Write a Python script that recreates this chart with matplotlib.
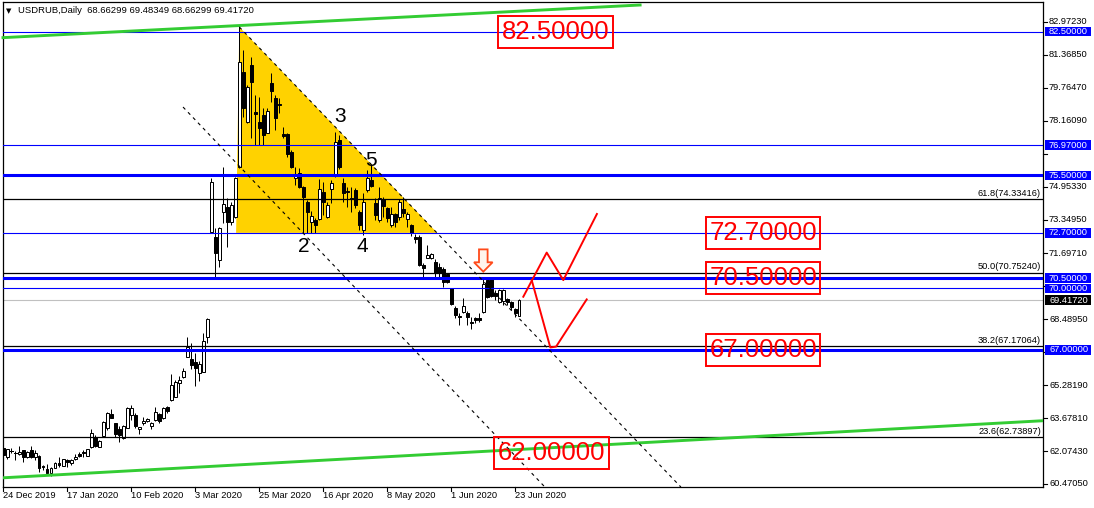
import matplotlib
matplotlib.use('Agg')
import matplotlib.pyplot as plt
from matplotlib.patches import Rectangle, Polygon
from matplotlib.transforms import blended_transform_factory
import numpy as np

plt.rcParams['font.family'] = ['Liberation Sans', 'DejaVu Sans']

# ---------------- data ----------------
opens = [62.21, 61.80, 62.10, 61.99, 61.91, 62.13, 61.77, 62.13, 61.77, 61.83,
         61.36, 61.20, 61.02, 61.26, 61.47, 61.36, 61.62, 61.48, 61.67, 61.91,
         62.01, 61.85, 62.29, 62.77, 62.29, 62.82, 63.18, 63.86, 63.42, 63.13,
         62.69, 63.21, 63.83, 63.83, 63.13, 63.42, 63.52, 63.29, 63.59, 63.86,
         63.67, 64.24, 64.56, 64.72, 65.40, 65.66, 66.67, 66.54, 66.41, 65.86,
         65.94, 67.61, 72.73, 72.52, 71.38, 73.70, 73.98, 73.25, 73.49, 75.93,
         80.55, 78.12, 80.88, 78.58, 78.12, 78.44, 77.58, 79.99, 79.29, 79.00,
         77.52, 77.52, 76.66, 75.36, 75.60, 74.95, 74.22, 73.25, 73.33, 73.36,
         74.71, 73.49, 74.82, 75.52, 77.23, 75.15, 74.74, 74.42, 74.79, 73.74,
         72.84, 74.79, 75.28, 74.14, 73.33, 74.34, 73.90, 73.09, 73.61, 73.49,
         73.85, 73.38, 73.09, 72.49, 72.52, 71.14, 71.50, 71.46, 71.30, 71.02,
         70.92, 70.68, 70.00, 69.03, 68.65, 68.86, 68.81, 68.38, 68.54, 68.54,
         68.86, 70.40, 70.44, 69.76, 69.35, 69.40, 69.46, 69.35, 68.98, 68.66299]
highs = [62.29, 62.16, 62.21, 62.07, 62.32, 62.13, 62.06, 62.32, 62.13, 61.88,
         61.39, 61.44, 61.31, 61.55, 61.80, 61.70, 61.69, 61.67, 61.93, 62.03,
         62.13, 62.18, 63.13, 62.86, 62.60, 63.53, 63.99, 64.11, 63.46, 63.29,
         63.32, 64.20, 64.32, 63.91, 63.26, 63.75, 63.67, 63.50, 64.20, 63.91,
         64.20, 64.27, 65.83, 65.53, 65.73, 66.10, 67.61, 67.32, 66.83, 66.48,
         67.81, 68.54, 75.36, 72.92, 73.00, 75.93, 74.38, 74.22, 75.44, 82.78,
         81.61, 79.90, 81.28, 79.42, 79.33, 78.77, 78.77, 80.47, 79.42, 79.26,
         77.88, 77.55, 76.74, 75.93, 75.85, 74.98, 74.30, 73.77, 73.41, 75.31,
         75.20, 74.22, 75.28, 77.63, 77.47, 75.36, 74.95, 74.95, 74.87, 73.82,
         74.63, 75.76, 76.01, 74.38, 74.95, 74.47, 73.98, 73.98, 73.66, 74.34,
         74.43, 73.74, 73.14, 72.63, 72.60, 71.22, 72.11, 71.74, 71.41, 71.22,
         71.06, 70.73, 70.00, 69.14, 68.78, 69.51, 68.89, 68.59, 68.59, 68.78,
         70.44, 70.44, 70.49, 69.92, 69.95, 69.95, 69.51, 69.40, 69.03, 69.48349]
lows = [61.80, 61.67, 61.96, 61.64, 61.88, 61.56, 61.75, 61.72, 61.64, 61.07,
        61.15, 60.91, 60.88, 61.23, 61.31, 61.33, 61.31, 61.39, 61.64, 61.77,
        61.80, 61.82, 62.21, 62.29, 62.27, 62.78, 63.10, 63.67, 62.77, 62.53,
        62.66, 63.18, 63.59, 63.18, 62.89, 63.34, 63.49, 63.16, 63.55, 63.42,
        63.64, 63.91, 64.53, 64.69, 64.92, 65.61, 66.64, 66.07, 65.26, 65.50,
        65.94, 67.32, 72.68, 70.57, 71.06, 73.17, 72.03, 73.09, 73.41, 75.85,
        78.36, 78.04, 77.31, 76.98, 76.98, 76.98, 77.55, 79.09, 77.71, 78.52,
        77.31, 76.41, 75.85, 75.03, 74.87, 72.68, 72.68, 72.68, 72.68, 73.33,
        73.57, 73.41, 74.14, 75.44, 75.80, 74.22, 73.98, 73.74, 73.90, 72.84,
        72.60, 74.71, 74.95, 73.33, 73.25, 73.49, 73.25, 73.01, 73.01, 73.33,
        73.49, 73.01, 72.55, 72.19, 71.11, 70.57, 71.46, 71.41, 70.57, 70.57,
        70.08, 70.24, 69.19, 68.54, 68.21, 68.81, 68.21, 68.00, 68.33, 68.38,
        68.81, 69.51, 69.59, 69.43, 69.30, 69.19, 69.19, 68.94, 68.59, 68.66299]
closes = [61.88, 62.16, 62.08, 61.98, 62.04, 61.77, 62.04, 61.77, 61.99, 61.23,
          61.28, 60.99, 61.26, 61.51, 61.39, 61.67, 61.56, 61.64, 61.80, 61.83,
          61.96, 62.16, 62.94, 62.34, 62.56, 63.50, 63.91, 63.70, 62.90, 62.87,
          63.29, 64.15, 64.15, 63.29, 63.23, 63.54, 63.62, 63.42, 63.96, 63.55,
          64.15, 64.04, 65.29, 65.44, 65.53, 65.97, 67.16, 66.26, 66.10, 66.31,
          67.43, 68.50, 75.20, 71.71, 72.92, 74.09, 73.22, 74.06, 75.36, 81.04,
          78.77, 79.82, 80.07, 78.50, 77.79, 77.47, 78.66, 79.63, 78.31, 78.95,
          77.42, 76.54, 75.93, 75.52, 74.95, 74.47, 73.74, 73.52, 73.09, 74.82,
          74.22, 74.06, 75.15, 77.14, 75.93, 74.66, 74.69, 74.34, 74.06, 73.09,
          74.22, 75.36, 75.00, 73.57, 74.38, 74.01, 73.41, 73.61, 73.25, 74.22,
          73.66, 73.61, 72.71, 72.41, 71.14, 70.98, 71.63, 71.67, 70.73, 70.73,
          70.32, 70.32, 69.24, 68.70, 68.59, 69.14, 68.59, 68.29, 68.46, 68.46,
          70.19, 69.59, 69.63, 69.63, 69.92, 69.92, 69.35, 69.07, 68.78, 69.41720]

date_tick_bars = [0, 16, 32, 48, 64, 80, 96, 112, 128]
date_labels = ["24 Dec 2019", "17 Jan 2020", "10 Feb 2020", "3 Mar 2020", "25 Mar 2020",
               "16 Apr 2020", "8 May 2020", "1 Jun 2020", "23 Jun 2020"]

price_ticks = [82.97230, 81.36850, 79.76470, 78.16090, 76.55710, 74.95330, 73.34950,
               71.69710, 70.09330, 68.48950, 66.88570, 65.28190, 63.67810, 62.07430, 60.47050]

thin_blue_levels = [82.5, 76.97, 72.7, 70.0]
thick_blue_levels = [75.5, 70.5, 67.0]
blue_axis_labels = [82.5, 76.97, 75.5, 72.7, 70.5, 70.0, 67.0]
bid_price = 69.41720

fib_pct = [61.8, 50.0, 38.2, 23.6]
fib_levels = [74.33416, 70.75240, 67.17064, 62.73897]

upper_trend_b = [-0.075, 159.2]
upper_trend_p = [82.21, 83.80]
lower_trend_b = [-0.075, 259.9]
lower_trend_p = [60.77, 63.55]

channel_a_b = [44.93, 135.4]
channel_a_p = [78.83, 60.32]
channel_b_b = [59.0, 169.4]
channel_b_p = [82.73, 60.32]

triangle_b = [58.2, 59.0, 108.5]
triangle_p = [72.70, 82.73, 72.70]

wave_labels = ["2", "3", "4", "5"]
wave_b = [75.0, 84.2, 89.85, 91.85]
wave_p = [72.03, 78.35, 72.06, 76.21]

red_label_values = [82.5, 72.7, 70.5, 67.0, 62.0]
red_label_b = [138.0, 190.0, 190.0, 190.0, 137.0]

path1_b = [130.0, 135.85, 140.0, 148.4]
path1_p = [69.59, 71.74, 70.40, 73.62]
path2_b = [132.1, 136.75, 138.2, 145.85]
path2_p = [70.40, 67.12, 67.16, 69.46]

arrow_tip_b, arrow_tip_p = 120.0, 70.81

# ---------------- figure ----------------
W, H = 1094, 508
fig = plt.figure(figsize=(W / 100, H / 100), dpi=100)
fig.patch.set_facecolor('white')
L, R, T, B = 3, 1043, 2, 487
ax = fig.add_axes([L / W, 1 - B / H, (R - L) / W, (B - T) / H])
ax.set_xlim(-0.075, 259.925)
ax.set_ylim(60.322, 83.946)
ax.set_xticks([])
ax.set_yticks([])
for s in ax.spines.values():
    s.set_color('black')
    s.set_linewidth(0.9)

ppu = (B - T) / (83.946 - 60.322)  # pixels per price unit
ppb = 4.0                            # pixels per bar

# triangle
ax.add_patch(Polygon(list(zip(triangle_b, triangle_p)), closed=True,
                     facecolor='#FFD200', edgecolor='none', zorder=1))

# candles
lw_px = 0.72
for i, (o, h, l, c) in enumerate(zip(opens, highs, lows, closes)):
    ax.plot([i, i], [l, h], color='black', lw=lw_px, zorder=3, solid_capstyle='butt')
    if abs(c - o) < 0.03:
        ax.plot([i - 0.35, i + 0.35], [c, c], color='black', lw=lw_px, zorder=3)
    else:
        fc = 'white' if c > o else 'black'
        ax.add_patch(Rectangle((i - 0.3, min(o, c)), 0.6, abs(c - o),
                               facecolor=fc, edgecolor='black', lw=lw_px, zorder=3))

# horizontal levels
for v in thin_blue_levels:
    ax.axhline(v, color='#0000FF', lw=0.8, zorder=4)
for v in thick_blue_levels:
    ax.axhline(v, color='#0000FF', lw=2.2, zorder=4)
for v in fib_levels:
    ax.axhline(v, color='black', lw=0.9, zorder=4)
ax.axhline(bid_price, color='#C0C0C0', lw=0.8, zorder=2)

for pct, v in zip(fib_pct, fib_levels):
    ax.annotate(f"{pct:.1f}({v:.5f})", xy=(1.0, v), xycoords=('axes fraction', 'data'),
                xytext=(-1.5, 1.2), textcoords='offset points', ha='right', va='bottom',
                fontsize=6.7, color='black', zorder=6)

# trendlines
ax.plot(upper_trend_b, upper_trend_p, color='#33CC33', lw=2.1, zorder=4, clip_on=False)
ax.plot(lower_trend_b, lower_trend_p, color='#33CC33', lw=2.1, zorder=4)

# dashed channel lines
ax.plot(channel_a_b, channel_a_p, color='black', lw=0.8, ls=(0, (3, 3.5)), zorder=4)
ax.plot(channel_b_b, channel_b_p, color='black', lw=0.8, ls=(0, (3, 3.5)), zorder=4)

# wave labels
for t, b, p in zip(wave_labels, wave_b, wave_p):
    ax.text(b, p, t, fontsize=15, ha='center', va='center', color='black', zorder=6)

# scenario paths
ax.plot(path1_b, path1_p, color='#FF0000', lw=1.4, zorder=5)
ax.plot(path2_b, path2_p, color='#FF0000', lw=1.4, zorder=5)

# down arrow
sw, hw, hh, tl = 4.3 / ppb, 9.3 / ppb, 9.4 / ppu, 22.3 / ppu
arrow = [(arrow_tip_b - sw, arrow_tip_p + tl), (arrow_tip_b + sw, arrow_tip_p + tl),
         (arrow_tip_b + sw, arrow_tip_p + hh), (arrow_tip_b + hw, arrow_tip_p + hh),
         (arrow_tip_b, arrow_tip_p), (arrow_tip_b - hw, arrow_tip_p + hh),
         (arrow_tip_b - sw, arrow_tip_p + hh)]
ax.add_patch(Polygon(arrow, closed=True, facecolor='#FFF4EC', edgecolor='#FF4A1A',
                     lw=1.3, zorder=6))

# red boxed labels
bw, bh = 114.4 / ppb, 32.0 / ppu
for v, b in zip(red_label_values, red_label_b):
    ax.add_patch(Rectangle((b - bw / 2, v - bh / 2), bw, bh, facecolor='none',
                           edgecolor='#FF0000', lw=1.4, zorder=7))
    ax.text(b, v, f"{v:.5f}", fontsize=18.5, color='#FF0000', ha='center',
            va='center', zorder=7)

# right price axis
tr = blended_transform_factory(fig.transFigure, ax.transData)
boxed = blue_axis_labels + [bid_price]
lh = 9.6 / ppu
for v in price_ticks:
    ax.plot([R / W, (R + 4) / W], [v, v], color='black', lw=0.8, transform=tr, clip_on=False)
    if min(abs(v - q) for q in boxed) < lh:
        continue  # label hidden behind a level box, as in the reference
    ax.text(1049 / W, v, f"{v:.5f}", transform=tr, fontsize=6.7, va='center', ha='left',
            color='black', clip_on=False, zorder=8)
for v in blue_axis_labels:
    ax.add_patch(Rectangle((1044.5 / W, v - lh / 2), 46.5 / W, lh, transform=tr,
                           facecolor='#0000FF', edgecolor='none', clip_on=False, zorder=9))
    ax.text(1049 / W, v, f"{v:.5f}", transform=tr, fontsize=6.7, va='center', ha='left',
            color='white', clip_on=False, zorder=10)
ax.add_patch(Rectangle((1044.5 / W, bid_price - lh / 2), 46.5 / W, lh, transform=tr,
                       facecolor='black', edgecolor='none', clip_on=False, zorder=9))
ax.text(1049 / W, bid_price, f"{bid_price:.5f}", transform=tr, fontsize=6.7, va='center',
        ha='left', color='white', clip_on=False, zorder=10)

# date axis
trx = blended_transform_factory(ax.transData, fig.transFigure)
for b, lab in zip(date_tick_bars, date_labels):
    ax.plot([b, b], [1 - B / H, 1 - (B + 4) / H], color='black', lw=0.8, transform=trx,
            clip_on=False)
    ax.text(b - 0.15, 1 - 496 / H, lab, transform=trx, fontsize=6.7, ha='left', va='center',
            clip_on=False)

# header
fig.text(8.3 / W, 1 - 11 / H, "\u25BC", fontsize=5, ha='center', va='center',
         family=['DejaVu Sans'])
fig.text(18 / W, 1 - 10.5 / H, "USDRUB,Daily  68.66299 69.48349 68.66299 69.41720",
         fontsize=6.8, ha='left', va='center', zorder=10)

fig.savefig('out.png', dpi=100, facecolor='white')
